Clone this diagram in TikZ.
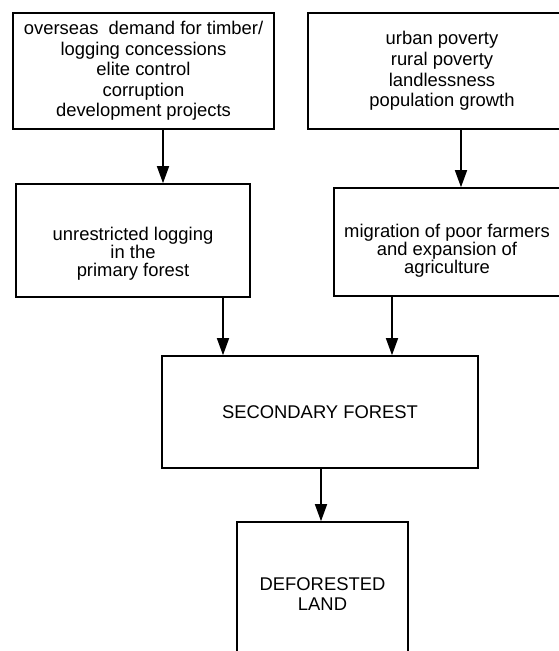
\documentclass[tikz,border=0pt]{standalone}
\usepackage{fontspec}
\setmainfont{Liberation Sans}
\usetikzlibrary{arrows.meta}
\begin{document}
\begin{tikzpicture}[x=1pt,y=1pt,
    box/.style={draw, line width=1.6pt, rectangle, align=center, inner sep=0pt,
        font=\fontsize{18.4}{20.6}\selectfont},
    txt/.style={align=center, inner sep=0pt, font=\fontsize{18.4}{17.8}\selectfont},
    arr/.style={line width=1.5pt, -{Triangle[length=17pt,width=12pt]}}]
    \useasboundingbox (0,0) rectangle (558,-651);
    \node[box, minimum width=261, minimum height=116] (causes) at (143.5,-71)
        {overseas\ \ demand for timber/\\logging concessions\\elite control\\corruption\\development projects};
    \node[box, minimum width=268, minimum height=116] (poverty) at (442,-71)
        {urban poverty\\rural poverty\\landlessness\\population growth};
    \node[box, minimum width=234, minimum height=113] (logging) at (133,-240.5) {};
    \node[txt] (loggingtext) at ([yshift=-13pt]logging.center)
        {unrestricted logging\\in the\\primary forest};
    \node[box, minimum width=226, minimum height=108] (farmers) at (447,-242) {};
    \node[txt] (farmerstext) at ([yshift=-9pt]farmers.center)
        {migration of poor farmers\\and expansion of\\agriculture};
    \node[box, minimum width=316, minimum height=112] (secondary) at (320,-412)
        {SECONDARY FOREST};
    \node[box, minimum width=171, minimum height=144] (deforested) at (322.5,-594)
        {DEFORESTED\\LAND};
    \coordinate (a1) at (163,0);
    \coordinate (a2) at (461,0);
    \coordinate (a3) at (223,0);
    \coordinate (a4) at (392,0);
    \coordinate (a5) at (321,0);
    \draw[arr] (causes.south -| a1) -- (logging.north -| a1);
    \draw[arr] (poverty.south -| a2) -- (farmers.north -| a2);
    \draw[arr] (logging.south -| a3) -- (secondary.north -| a3);
    \draw[arr] (farmers.south -| a4) -- (secondary.north -| a4);
    \draw[arr] (secondary.south -| a5) -- (deforested.north -| a5);
\end{tikzpicture}
\end{document}
